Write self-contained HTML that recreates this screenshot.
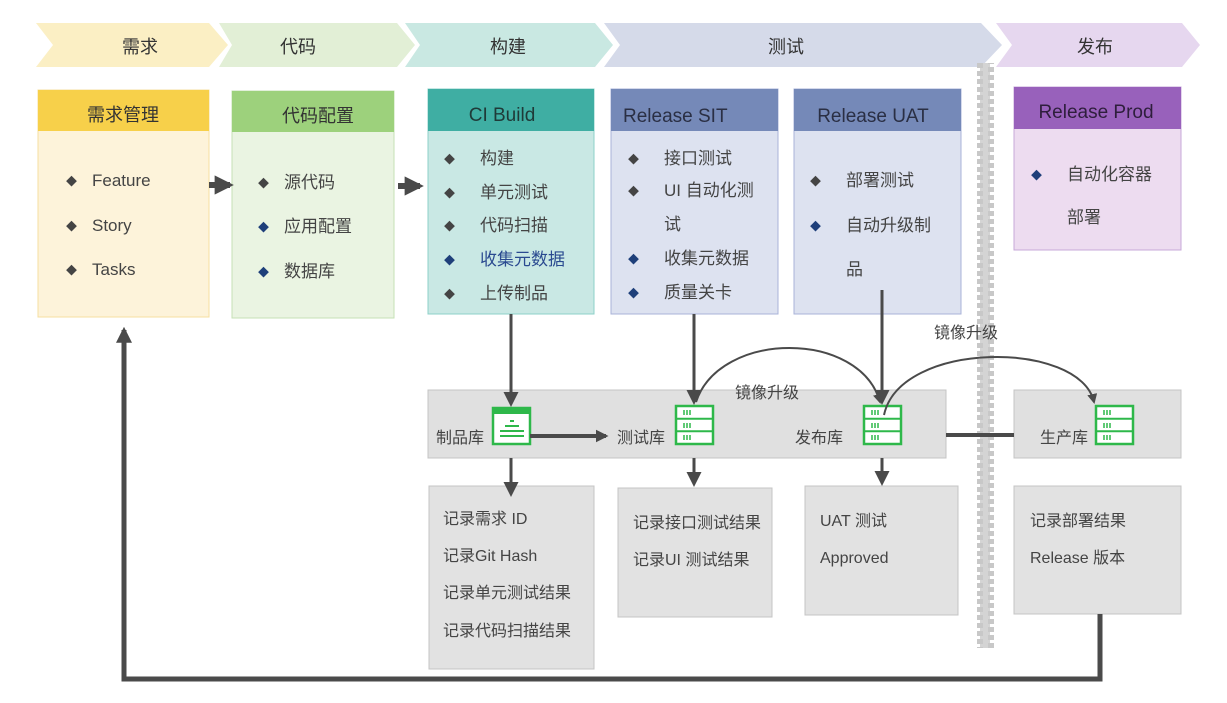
<!DOCTYPE html>
<html><head><meta charset="utf-8"><style>
body{margin:0;background:#fff;}
svg{display:block;font-family:"Liberation Sans","Noto Sans CJK SC",sans-serif;}
.t{fill:#444;font-size:17px;}
.t .d{font-size:11px;}
.h{fill:#333;font-size:18px;text-anchor:middle;}
.s{fill:#444;font-size:16px;}
</style></head><body>
<svg width="1227" height="703" viewBox="0 0 1227 703">
<defs>
<marker id="a" viewBox="0 0 10 10" refX="8" refY="5" markerWidth="3.2" markerHeight="3.2" orient="auto"><path d="M0,0L10,5L0,10z" fill="#4a4a4a"/></marker>
<marker id="b" viewBox="0 0 10 10" refX="8" refY="5" markerWidth="5" markerHeight="5" orient="auto"><path d="M0,0L10,5L0,10z" fill="#4a4a4a"/></marker>
<g id="srv"><rect x="0" y="0" width="37" height="38" fill="#fff" stroke="#2eb84a" stroke-width="2.5"/><line x1="0" y1="12.7" x2="37" y2="12.7" stroke="#2eb84a" stroke-width="2"/><line x1="0" y1="25.3" x2="37" y2="25.3" stroke="#2eb84a" stroke-width="2"/><g stroke="#2eb84a" stroke-width="1.5"><path d="M8,4v5M11,4v5M14,4v5M8,17v5M11,17v5M14,17v5M8,29v5M11,29v5M14,29v5"/></g></g>
</defs>
<polygon points="36,23 209,23 228,45 209,67 36,67 53,45" fill="#fbefc4"/>
<polygon points="219,23 397,23 415,45 397,67 219,67 232,45" fill="#e2efd6"/>
<polygon points="405,23 595,23 613,45 595,67 405,67 420,45" fill="#c9e8e2"/>
<polygon points="604,23 981,23 1002,45 981,67 604,67 620,45" fill="#d5dae9"/>
<polygon points="996,23 1182,23 1200,45 1182,67 996,67 1012,45" fill="#e6d7ef"/>
<text x="140" y="53" class="h">需求</text>
<text x="298" y="53" class="h">代码</text>
<text x="508" y="53" class="h">构建</text>
<text x="786" y="53" class="h">测试</text>
<text x="1095" y="53" class="h">发布</text>
<rect x="980" y="63" width="10" height="585" fill="#d4d4d4"/>
<line x1="980" y1="63" x2="980" y2="648" stroke="#c8c8c8" stroke-width="6" stroke-dasharray="5,3"/>
<line x1="991" y1="63" x2="991" y2="648" stroke="#c8c8c8" stroke-width="6" stroke-dasharray="5,3" stroke-dashoffset="4"/>

<rect x="38" y="90" width="171" height="227" fill="#fdf3da" stroke="#f6dfa0"/>
<rect x="38" y="90" width="171" height="41" fill="#f7d04a"/>
<text x="123" y="121" class="h">需求管理</text>
<g class="t"><text class="d" x="66" y="185">◆</text><text x="92" y="186">Feature</text><text class="d" x="66" y="230">◆</text><text x="92" y="231">Story</text><text class="d" x="66" y="274">◆</text><text x="92" y="275">Tasks</text></g>

<rect x="232" y="91" width="162" height="227" fill="#eaf4e2" stroke="#c6e1b5"/>
<rect x="232" y="91" width="162" height="41" fill="#9dd17c"/>
<text x="318" y="122" class="h">代码配置</text>
<g class="t"><text class="d" x="258" y="187">◆</text><text x="284" y="188">源代码</text><text class="d" x="258" y="231" fill="#1e3f7a">◆</text><text x="284" y="232">应用配置</text><text class="d" x="258" y="276" fill="#1e3f7a">◆</text><text x="284" y="277">数据库</text></g>

<rect x="428" y="89" width="166" height="225" fill="#c9e8e4" stroke="#8dd0c8"/>
<rect x="428" y="89" width="166" height="42" fill="#3faea3"/>
<text x="502" y="121" class="h" style="fill:#1f3a38;font-size:19px">CI Build</text>
<g class="t"><text class="d" x="444" y="163">◆</text><text x="480" y="164">构建</text><text class="d" x="444" y="197">◆</text><text x="480" y="198">单元测试</text><text class="d" x="444" y="230">◆</text><text x="480" y="231">代码扫描</text><text class="d" x="444" y="264" fill="#1e3f7a">◆</text><text x="480" y="265" fill="#2a4a90">收集元数据</text><text class="d" x="444" y="298">◆</text><text x="480" y="299">上传制品</text></g>

<rect x="611" y="89" width="167" height="225" fill="#dde2f0" stroke="#a9b3d8"/>
<rect x="611" y="89" width="167" height="42" fill="#7589b8"/>
<text x="623" y="122" class="s" style="font-size:19px;fill:#2a2f44">Release SIT</text>
<g class="t"><text class="d" x="628" y="163">◆</text><text x="664" y="164">接口测试</text><text class="d" x="628" y="195">◆</text><text x="664" y="196">UI 自动化测</text><text x="664" y="230">试</text><text class="d" x="628" y="263" fill="#1e3f7a">◆</text><text x="664" y="264">收集元数据</text><text class="d" x="628" y="297" fill="#1e3f7a">◆</text><text x="664" y="298">质量关卡</text></g>

<rect x="794" y="89" width="167" height="225" fill="#dde2f0" stroke="#a9b3d8"/>
<rect x="794" y="89" width="167" height="42" fill="#7589b8"/>
<text x="873" y="122" class="h" style="fill:#2a2f44;font-size:19px">Release UAT</text>
<g class="t"><text class="d" x="810" y="185">◆</text><text x="846" y="186">部署测试</text><text class="d" x="810" y="230" fill="#1e3f7a">◆</text><text x="846" y="231">自动升级制</text><text x="846" y="275">品</text></g>

<rect x="1014" y="87" width="167" height="163" fill="#eddcf0" stroke="#c7a8d8"/>
<rect x="1014" y="87" width="167" height="42" fill="#9861bb"/>
<text x="1096" y="118" class="h" style="fill:#2e1e3c;font-size:19px">Release Prod</text>
<g class="t"><text class="d" x="1031" y="179" fill="#1e3f7a">◆</text><text x="1067" y="180">自动化容器</text><text x="1067" y="223">部署</text></g>

<line x1="209" y1="185" x2="230" y2="185" stroke="#4a4a4a" stroke-width="6" marker-end="url(#a)"/>
<line x1="398" y1="186" x2="420" y2="186" stroke="#4a4a4a" stroke-width="6" marker-end="url(#a)"/>

<rect x="428" y="390" width="518" height="68" fill="#e0e0e0" stroke="#c4c4c4"/>
<rect x="1014" y="390" width="167" height="68" fill="#e0e0e0" stroke="#c4c4c4"/>
<rect x="429" y="486" width="165" height="183" fill="#e2e2e2" stroke="#c4c4c4"/>
<rect x="618" y="488" width="154" height="129" fill="#e2e2e2" stroke="#c4c4c4"/>
<rect x="805" y="486" width="153" height="129" fill="#e2e2e2" stroke="#c4c4c4"/>
<rect x="1014" y="486" width="167" height="128" fill="#e2e2e2" stroke="#c4c4c4"/>

<g class="s"><text x="436" y="443">制品库</text><text x="617" y="443">测试库</text><text x="795" y="443">发布库</text><text x="1040" y="443">生产库</text></g>

<rect x="493" y="408" width="37" height="36" fill="#fff" stroke="#2eb84a" stroke-width="2.5"/>
<rect x="493" y="408" width="37" height="6" fill="#2eb84a"/>
<g stroke="#2eb84a" stroke-width="2"><path d="M510,421h4M505,426h14M500,431h24M500,436h24"/></g>
<use href="#srv" x="676" y="406"/>
<use href="#srv" x="864" y="406"/>
<use href="#srv" x="1096" y="406"/>

<g stroke="#4a4a4a" stroke-width="3" fill="none">
<line x1="511" y1="314" x2="511" y2="404" marker-end="url(#b)"/>
<line x1="694" y1="314" x2="694" y2="402" marker-end="url(#b)"/>
<line x1="882" y1="290" x2="882" y2="402" marker-end="url(#b)"/>
<line x1="530" y1="436" x2="606" y2="436" stroke-width="4" marker-end="url(#a)"/>
<line x1="511" y1="458" x2="511" y2="494" marker-end="url(#b)"/>
<line x1="694" y1="458" x2="694" y2="484" marker-end="url(#b)"/>
<line x1="882" y1="458" x2="882" y2="483" marker-end="url(#b)"/>
<line x1="946" y1="435" x2="1014" y2="435" stroke-width="4"/>
<path d="M696,402 C720,330 860,330 880,402" stroke-width="2" marker-end="url(#b)"/>
<path d="M884,415 C900,340 1080,340 1094,402" stroke-width="2" marker-end="url(#b)"/>
<polyline points="1100,614 1100,679 124,679 124,330" stroke-width="5" marker-end="url(#a)"/>
</g>
<text x="735" y="398" class="s">镜像升级</text>
<text x="934" y="338" class="s">镜像升级</text>

<g class="s">
<text x="443" y="524">记录需求 ID</text><text x="443" y="561">记录Git Hash</text><text x="443" y="598">记录单元测试结果</text><text x="443" y="636">记录代码扫描结果</text>
<text x="633" y="528">记录接口测试结果</text><text x="633" y="565">记录UI 测试结果</text>
<text x="820" y="526">UAT 测试</text><text x="820" y="563">Approved</text>
<text x="1030" y="526">记录部署结果</text><text x="1030" y="563">Release 版本</text>
</g>
</svg>
</body></html>
